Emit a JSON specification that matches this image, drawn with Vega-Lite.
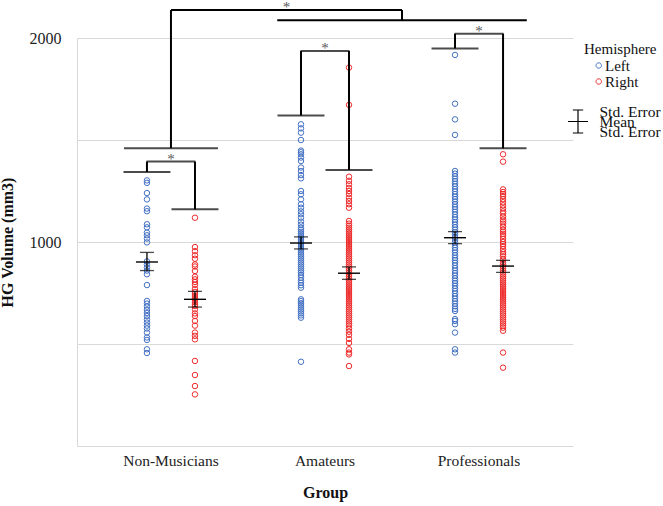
{
 "$schema": "https://vega.github.io/schema/vega-lite/v6.json",
 "width": 496, "height": 408,
 "autosize": {"type": "none"},
 "padding": {"left": 77, "top": 38, "right": 90, "bottom": 60},
 "config": {
  "font": "Liberation Serif",
  "view": {"stroke": null},
  "axisX": {"ticks": false, "labelAngle": 0, "labelFontSize": 15.5, "labelColor": "#222", "domainColor": "#d9d9d9", "titleFontSize": 16, "titleFontWeight": "bold", "titleColor": "#111", "labelPadding": 7, "titlePadding": 16, "grid": false},
  "axisY": {"ticks": false, "grid": true, "gridColor": "#d9d9d9", "domainColor": "#d9d9d9", "labelFontSize": 16, "labelColor": "#222", "labelPadding": 16, "titleFontSize": 16, "titleFontWeight": "bold", "titleColor": "#111", "titlePadding": 14}
 },
 "datasets": {
  "points": [
   {"group":"Non-Musicians","hemisphere":"Left","volume":1302},{"group":"Non-Musicians","hemisphere":"Left","volume":1290},{"group":"Non-Musicians","hemisphere":"Left","volume":1240},{"group":"Non-Musicians","hemisphere":"Left","volume":1209},{"group":"Non-Musicians","hemisphere":"Left","volume":1164},{"group":"Non-Musicians","hemisphere":"Left","volume":1151},{"group":"Non-Musicians","hemisphere":"Left","volume":1087},{"group":"Non-Musicians","hemisphere":"Left","volume":1072},{"group":"Non-Musicians","hemisphere":"Left","volume":1046},{"group":"Non-Musicians","hemisphere":"Left","volume":1033},{"group":"Non-Musicians","hemisphere":"Left","volume":1017},{"group":"Non-Musicians","hemisphere":"Left","volume":998},{"group":"Non-Musicians","hemisphere":"Left","volume":905},{"group":"Non-Musicians","hemisphere":"Left","volume":890},{"group":"Non-Musicians","hemisphere":"Left","volume":875},{"group":"Non-Musicians","hemisphere":"Left","volume":860},{"group":"Non-Musicians","hemisphere":"Left","volume":842},{"group":"Non-Musicians","hemisphere":"Left","volume":789},{"group":"Non-Musicians","hemisphere":"Left","volume":711},{"group":"Non-Musicians","hemisphere":"Left","volume":698},{"group":"Non-Musicians","hemisphere":"Left","volume":683},{"group":"Non-Musicians","hemisphere":"Left","volume":667},{"group":"Non-Musicians","hemisphere":"Left","volume":652},{"group":"Non-Musicians","hemisphere":"Left","volume":637},{"group":"Non-Musicians","hemisphere":"Left","volume":620},{"group":"Non-Musicians","hemisphere":"Left","volume":605},{"group":"Non-Musicians","hemisphere":"Left","volume":590},{"group":"Non-Musicians","hemisphere":"Left","volume":576},{"group":"Non-Musicians","hemisphere":"Left","volume":556},{"group":"Non-Musicians","hemisphere":"Left","volume":532},{"group":"Non-Musicians","hemisphere":"Left","volume":520},{"group":"Non-Musicians","hemisphere":"Left","volume":474},{"group":"Non-Musicians","hemisphere":"Left","volume":456},
   {"group":"Non-Musicians","hemisphere":"Right","volume":1119},{"group":"Non-Musicians","hemisphere":"Right","volume":975},{"group":"Non-Musicians","hemisphere":"Right","volume":955},{"group":"Non-Musicians","hemisphere":"Right","volume":935},{"group":"Non-Musicians","hemisphere":"Right","volume":918},{"group":"Non-Musicians","hemisphere":"Right","volume":890},{"group":"Non-Musicians","hemisphere":"Right","volume":880},{"group":"Non-Musicians","hemisphere":"Right","volume":858},{"group":"Non-Musicians","hemisphere":"Right","volume":830},{"group":"Non-Musicians","hemisphere":"Right","volume":817},{"group":"Non-Musicians","hemisphere":"Right","volume":804},{"group":"Non-Musicians","hemisphere":"Right","volume":790},{"group":"Non-Musicians","hemisphere":"Right","volume":770},{"group":"Non-Musicians","hemisphere":"Right","volume":755},{"group":"Non-Musicians","hemisphere":"Right","volume":745},{"group":"Non-Musicians","hemisphere":"Right","volume":735},{"group":"Non-Musicians","hemisphere":"Right","volume":725},{"group":"Non-Musicians","hemisphere":"Right","volume":716},{"group":"Non-Musicians","hemisphere":"Right","volume":705},{"group":"Non-Musicians","hemisphere":"Right","volume":695},{"group":"Non-Musicians","hemisphere":"Right","volume":686},{"group":"Non-Musicians","hemisphere":"Right","volume":670},{"group":"Non-Musicians","hemisphere":"Right","volume":650},{"group":"Non-Musicians","hemisphere":"Right","volume":637},{"group":"Non-Musicians","hemisphere":"Right","volume":613},{"group":"Non-Musicians","hemisphere":"Right","volume":590},{"group":"Non-Musicians","hemisphere":"Right","volume":556},{"group":"Non-Musicians","hemisphere":"Right","volume":540},{"group":"Non-Musicians","hemisphere":"Right","volume":523},{"group":"Non-Musicians","hemisphere":"Right","volume":417},{"group":"Non-Musicians","hemisphere":"Right","volume":348},{"group":"Non-Musicians","hemisphere":"Right","volume":294},{"group":"Non-Musicians","hemisphere":"Right","volume":253},
   {"group":"Amateurs","hemisphere":"Left","volume":1577},{"group":"Amateurs","hemisphere":"Left","volume":1557},{"group":"Amateurs","hemisphere":"Left","volume":1536},{"group":"Amateurs","hemisphere":"Left","volume":1500},{"group":"Amateurs","hemisphere":"Left","volume":1448},{"group":"Amateurs","hemisphere":"Left","volume":1440},{"group":"Amateurs","hemisphere":"Left","volume":1430},{"group":"Amateurs","hemisphere":"Left","volume":1414},{"group":"Amateurs","hemisphere":"Left","volume":1397},{"group":"Amateurs","hemisphere":"Left","volume":1365},{"group":"Amateurs","hemisphere":"Left","volume":1348},{"group":"Amateurs","hemisphere":"Left","volume":1328},{"group":"Amateurs","hemisphere":"Left","volume":1312},{"group":"Amateurs","hemisphere":"Left","volume":1250},{"group":"Amateurs","hemisphere":"Left","volume":1234},{"group":"Amateurs","hemisphere":"Left","volume":1209},{"group":"Amateurs","hemisphere":"Left","volume":1185},{"group":"Amateurs","hemisphere":"Left","volume":1168},{"group":"Amateurs","hemisphere":"Left","volume":1150},{"group":"Amateurs","hemisphere":"Left","volume":1136},{"group":"Amateurs","hemisphere":"Left","volume":1119},{"group":"Amateurs","hemisphere":"Left","volume":1100},{"group":"Amateurs","hemisphere":"Left","volume":1085},{"group":"Amateurs","hemisphere":"Left","volume":1070},{"group":"Amateurs","hemisphere":"Left","volume":1060},{"group":"Amateurs","hemisphere":"Left","volume":1050},{"group":"Amateurs","hemisphere":"Left","volume":1040},{"group":"Amateurs","hemisphere":"Left","volume":1030},{"group":"Amateurs","hemisphere":"Left","volume":1020},{"group":"Amateurs","hemisphere":"Left","volume":1010},{"group":"Amateurs","hemisphere":"Left","volume":1000},{"group":"Amateurs","hemisphere":"Left","volume":990},{"group":"Amateurs","hemisphere":"Left","volume":980},{"group":"Amateurs","hemisphere":"Left","volume":970},{"group":"Amateurs","hemisphere":"Left","volume":960},{"group":"Amateurs","hemisphere":"Left","volume":950},{"group":"Amateurs","hemisphere":"Left","volume":940},{"group":"Amateurs","hemisphere":"Left","volume":930},{"group":"Amateurs","hemisphere":"Left","volume":920},{"group":"Amateurs","hemisphere":"Left","volume":910},{"group":"Amateurs","hemisphere":"Left","volume":900},{"group":"Amateurs","hemisphere":"Left","volume":890},{"group":"Amateurs","hemisphere":"Left","volume":880},{"group":"Amateurs","hemisphere":"Left","volume":870},{"group":"Amateurs","hemisphere":"Left","volume":860},{"group":"Amateurs","hemisphere":"Left","volume":850},{"group":"Amateurs","hemisphere":"Left","volume":838},{"group":"Amateurs","hemisphere":"Left","volume":825},{"group":"Amateurs","hemisphere":"Left","volume":812},{"group":"Amateurs","hemisphere":"Left","volume":800},{"group":"Amateurs","hemisphere":"Left","volume":788},{"group":"Amateurs","hemisphere":"Left","volume":776},{"group":"Amateurs","hemisphere":"Left","volume":719},{"group":"Amateurs","hemisphere":"Left","volume":710},{"group":"Amateurs","hemisphere":"Left","volume":700},{"group":"Amateurs","hemisphere":"Left","volume":690},{"group":"Amateurs","hemisphere":"Left","volume":680},{"group":"Amateurs","hemisphere":"Left","volume":670},{"group":"Amateurs","hemisphere":"Left","volume":660},{"group":"Amateurs","hemisphere":"Left","volume":650},{"group":"Amateurs","hemisphere":"Left","volume":640},{"group":"Amateurs","hemisphere":"Left","volume":629},{"group":"Amateurs","hemisphere":"Left","volume":413},
   {"group":"Amateurs","hemisphere":"Right","volume":1855},{"group":"Amateurs","hemisphere":"Right","volume":1672},{"group":"Amateurs","hemisphere":"Right","volume":1320},{"group":"Amateurs","hemisphere":"Right","volume":1300},{"group":"Amateurs","hemisphere":"Right","volume":1283},{"group":"Amateurs","hemisphere":"Right","volume":1265},{"group":"Amateurs","hemisphere":"Right","volume":1250},{"group":"Amateurs","hemisphere":"Right","volume":1235},{"group":"Amateurs","hemisphere":"Right","volume":1217},{"group":"Amateurs","hemisphere":"Right","volume":1201},{"group":"Amateurs","hemisphere":"Right","volume":1185},{"group":"Amateurs","hemisphere":"Right","volume":1168},{"group":"Amateurs","hemisphere":"Right","volume":1103},{"group":"Amateurs","hemisphere":"Right","volume":1090},{"group":"Amateurs","hemisphere":"Right","volume":1080},{"group":"Amateurs","hemisphere":"Right","volume":1070},{"group":"Amateurs","hemisphere":"Right","volume":1060},{"group":"Amateurs","hemisphere":"Right","volume":1050},{"group":"Amateurs","hemisphere":"Right","volume":1040},{"group":"Amateurs","hemisphere":"Right","volume":1030},{"group":"Amateurs","hemisphere":"Right","volume":1020},{"group":"Amateurs","hemisphere":"Right","volume":1010},{"group":"Amateurs","hemisphere":"Right","volume":1000},{"group":"Amateurs","hemisphere":"Right","volume":990},{"group":"Amateurs","hemisphere":"Right","volume":980},{"group":"Amateurs","hemisphere":"Right","volume":970},{"group":"Amateurs","hemisphere":"Right","volume":960},{"group":"Amateurs","hemisphere":"Right","volume":950},{"group":"Amateurs","hemisphere":"Right","volume":940},{"group":"Amateurs","hemisphere":"Right","volume":930},{"group":"Amateurs","hemisphere":"Right","volume":920},{"group":"Amateurs","hemisphere":"Right","volume":910},{"group":"Amateurs","hemisphere":"Right","volume":900},{"group":"Amateurs","hemisphere":"Right","volume":890},{"group":"Amateurs","hemisphere":"Right","volume":880},{"group":"Amateurs","hemisphere":"Right","volume":870},{"group":"Amateurs","hemisphere":"Right","volume":860},{"group":"Amateurs","hemisphere":"Right","volume":850},{"group":"Amateurs","hemisphere":"Right","volume":840},{"group":"Amateurs","hemisphere":"Right","volume":830},{"group":"Amateurs","hemisphere":"Right","volume":820},{"group":"Amateurs","hemisphere":"Right","volume":810},{"group":"Amateurs","hemisphere":"Right","volume":800},{"group":"Amateurs","hemisphere":"Right","volume":790},{"group":"Amateurs","hemisphere":"Right","volume":780},{"group":"Amateurs","hemisphere":"Right","volume":770},{"group":"Amateurs","hemisphere":"Right","volume":760},{"group":"Amateurs","hemisphere":"Right","volume":750},{"group":"Amateurs","hemisphere":"Right","volume":740},{"group":"Amateurs","hemisphere":"Right","volume":730},{"group":"Amateurs","hemisphere":"Right","volume":720},{"group":"Amateurs","hemisphere":"Right","volume":710},{"group":"Amateurs","hemisphere":"Right","volume":700},{"group":"Amateurs","hemisphere":"Right","volume":690},{"group":"Amateurs","hemisphere":"Right","volume":680},{"group":"Amateurs","hemisphere":"Right","volume":670},{"group":"Amateurs","hemisphere":"Right","volume":660},{"group":"Amateurs","hemisphere":"Right","volume":650},{"group":"Amateurs","hemisphere":"Right","volume":640},{"group":"Amateurs","hemisphere":"Right","volume":630},{"group":"Amateurs","hemisphere":"Right","volume":620},{"group":"Amateurs","hemisphere":"Right","volume":610},{"group":"Amateurs","hemisphere":"Right","volume":600},{"group":"Amateurs","hemisphere":"Right","volume":590},{"group":"Amateurs","hemisphere":"Right","volume":575},{"group":"Amateurs","hemisphere":"Right","volume":560},{"group":"Amateurs","hemisphere":"Right","volume":545},{"group":"Amateurs","hemisphere":"Right","volume":525},{"group":"Amateurs","hemisphere":"Right","volume":505},{"group":"Amateurs","hemisphere":"Right","volume":474},{"group":"Amateurs","hemisphere":"Right","volume":458},{"group":"Amateurs","hemisphere":"Right","volume":449},{"group":"Amateurs","hemisphere":"Right","volume":392},
   {"group":"Professionals","hemisphere":"Left","volume":1917},{"group":"Professionals","hemisphere":"Left","volume":1678},{"group":"Professionals","hemisphere":"Left","volume":1601},{"group":"Professionals","hemisphere":"Left","volume":1525},{"group":"Professionals","hemisphere":"Left","volume":1348},{"group":"Professionals","hemisphere":"Left","volume":1335},{"group":"Professionals","hemisphere":"Left","volume":1322},{"group":"Professionals","hemisphere":"Left","volume":1310},{"group":"Professionals","hemisphere":"Left","volume":1298},{"group":"Professionals","hemisphere":"Left","volume":1285},{"group":"Professionals","hemisphere":"Left","volume":1272},{"group":"Professionals","hemisphere":"Left","volume":1260},{"group":"Professionals","hemisphere":"Left","volume":1248},{"group":"Professionals","hemisphere":"Left","volume":1235},{"group":"Professionals","hemisphere":"Left","volume":1222},{"group":"Professionals","hemisphere":"Left","volume":1210},{"group":"Professionals","hemisphere":"Left","volume":1198},{"group":"Professionals","hemisphere":"Left","volume":1185},{"group":"Professionals","hemisphere":"Left","volume":1172},{"group":"Professionals","hemisphere":"Left","volume":1160},{"group":"Professionals","hemisphere":"Left","volume":1148},{"group":"Professionals","hemisphere":"Left","volume":1135},{"group":"Professionals","hemisphere":"Left","volume":1122},{"group":"Professionals","hemisphere":"Left","volume":1110},{"group":"Professionals","hemisphere":"Left","volume":1098},{"group":"Professionals","hemisphere":"Left","volume":1085},{"group":"Professionals","hemisphere":"Left","volume":1072},{"group":"Professionals","hemisphere":"Left","volume":1060},{"group":"Professionals","hemisphere":"Left","volume":1048},{"group":"Professionals","hemisphere":"Left","volume":1035},{"group":"Professionals","hemisphere":"Left","volume":1022},{"group":"Professionals","hemisphere":"Left","volume":1010},{"group":"Professionals","hemisphere":"Left","volume":998},{"group":"Professionals","hemisphere":"Left","volume":985},{"group":"Professionals","hemisphere":"Left","volume":972},{"group":"Professionals","hemisphere":"Left","volume":960},{"group":"Professionals","hemisphere":"Left","volume":948},{"group":"Professionals","hemisphere":"Left","volume":935},{"group":"Professionals","hemisphere":"Left","volume":922},{"group":"Professionals","hemisphere":"Left","volume":910},{"group":"Professionals","hemisphere":"Left","volume":898},{"group":"Professionals","hemisphere":"Left","volume":885},{"group":"Professionals","hemisphere":"Left","volume":872},{"group":"Professionals","hemisphere":"Left","volume":860},{"group":"Professionals","hemisphere":"Left","volume":848},{"group":"Professionals","hemisphere":"Left","volume":835},{"group":"Professionals","hemisphere":"Left","volume":822},{"group":"Professionals","hemisphere":"Left","volume":810},{"group":"Professionals","hemisphere":"Left","volume":798},{"group":"Professionals","hemisphere":"Left","volume":785},{"group":"Professionals","hemisphere":"Left","volume":772},{"group":"Professionals","hemisphere":"Left","volume":760},{"group":"Professionals","hemisphere":"Left","volume":748},{"group":"Professionals","hemisphere":"Left","volume":735},{"group":"Professionals","hemisphere":"Left","volume":722},{"group":"Professionals","hemisphere":"Left","volume":710},{"group":"Professionals","hemisphere":"Left","volume":698},{"group":"Professionals","hemisphere":"Left","volume":685},{"group":"Professionals","hemisphere":"Left","volume":672},{"group":"Professionals","hemisphere":"Left","volume":662},{"group":"Professionals","hemisphere":"Left","volume":622},{"group":"Professionals","hemisphere":"Left","volume":613},{"group":"Professionals","hemisphere":"Left","volume":597},{"group":"Professionals","hemisphere":"Left","volume":556},{"group":"Professionals","hemisphere":"Left","volume":474},{"group":"Professionals","hemisphere":"Left","volume":458},
   {"group":"Professionals","hemisphere":"Right","volume":1430},{"group":"Professionals","hemisphere":"Right","volume":1394},{"group":"Professionals","hemisphere":"Right","volume":1258},{"group":"Professionals","hemisphere":"Right","volume":1245},{"group":"Professionals","hemisphere":"Right","volume":1235},{"group":"Professionals","hemisphere":"Right","volume":1225},{"group":"Professionals","hemisphere":"Right","volume":1210},{"group":"Professionals","hemisphere":"Right","volume":1195},{"group":"Professionals","hemisphere":"Right","volume":1180},{"group":"Professionals","hemisphere":"Right","volume":1165},{"group":"Professionals","hemisphere":"Right","volume":1150},{"group":"Professionals","hemisphere":"Right","volume":1140},{"group":"Professionals","hemisphere":"Right","volume":1125},{"group":"Professionals","hemisphere":"Right","volume":1110},{"group":"Professionals","hemisphere":"Right","volume":1100},{"group":"Professionals","hemisphere":"Right","volume":1090},{"group":"Professionals","hemisphere":"Right","volume":1075},{"group":"Professionals","hemisphere":"Right","volume":1060},{"group":"Professionals","hemisphere":"Right","volume":1050},{"group":"Professionals","hemisphere":"Right","volume":1040},{"group":"Professionals","hemisphere":"Right","volume":1030},{"group":"Professionals","hemisphere":"Right","volume":1015},{"group":"Professionals","hemisphere":"Right","volume":1000},{"group":"Professionals","hemisphere":"Right","volume":990},{"group":"Professionals","hemisphere":"Right","volume":980},{"group":"Professionals","hemisphere":"Right","volume":965},{"group":"Professionals","hemisphere":"Right","volume":950},{"group":"Professionals","hemisphere":"Right","volume":940},{"group":"Professionals","hemisphere":"Right","volume":930},{"group":"Professionals","hemisphere":"Right","volume":915},{"group":"Professionals","hemisphere":"Right","volume":900},{"group":"Professionals","hemisphere":"Right","volume":890},{"group":"Professionals","hemisphere":"Right","volume":880},{"group":"Professionals","hemisphere":"Right","volume":870},{"group":"Professionals","hemisphere":"Right","volume":860},{"group":"Professionals","hemisphere":"Right","volume":850},{"group":"Professionals","hemisphere":"Right","volume":840},{"group":"Professionals","hemisphere":"Right","volume":830},{"group":"Professionals","hemisphere":"Right","volume":820},{"group":"Professionals","hemisphere":"Right","volume":810},{"group":"Professionals","hemisphere":"Right","volume":800},{"group":"Professionals","hemisphere":"Right","volume":790},{"group":"Professionals","hemisphere":"Right","volume":780},{"group":"Professionals","hemisphere":"Right","volume":770},{"group":"Professionals","hemisphere":"Right","volume":760},{"group":"Professionals","hemisphere":"Right","volume":750},{"group":"Professionals","hemisphere":"Right","volume":740},{"group":"Professionals","hemisphere":"Right","volume":730},{"group":"Professionals","hemisphere":"Right","volume":720},{"group":"Professionals","hemisphere":"Right","volume":710},{"group":"Professionals","hemisphere":"Right","volume":700},{"group":"Professionals","hemisphere":"Right","volume":690},{"group":"Professionals","hemisphere":"Right","volume":680},{"group":"Professionals","hemisphere":"Right","volume":670},{"group":"Professionals","hemisphere":"Right","volume":660},{"group":"Professionals","hemisphere":"Right","volume":650},{"group":"Professionals","hemisphere":"Right","volume":640},{"group":"Professionals","hemisphere":"Right","volume":630},{"group":"Professionals","hemisphere":"Right","volume":620},{"group":"Professionals","hemisphere":"Right","volume":610},{"group":"Professionals","hemisphere":"Right","volume":600},{"group":"Professionals","hemisphere":"Right","volume":590},{"group":"Professionals","hemisphere":"Right","volume":580},{"group":"Professionals","hemisphere":"Right","volume":565},{"group":"Professionals","hemisphere":"Right","volume":458},{"group":"Professionals","hemisphere":"Right","volume":384}
  ],
  "stats": [
   {"group":"Non-Musicians","hemisphere":"Left","stat":"Mean","mean":902,"lo":860,"hi":949},
   {"group":"Non-Musicians","hemisphere":"Right","stat":"Mean","mean":719,"lo":681,"hi":758},
   {"group":"Amateurs","hemisphere":"Left","stat":"Mean","mean":995,"lo":966,"hi":1025},
   {"group":"Amateurs","hemisphere":"Right","stat":"Mean","mean":847,"lo":817,"hi":878},
   {"group":"Professionals","hemisphere":"Left","stat":"Mean","mean":1021,"lo":992,"hi":1051},
   {"group":"Professionals","hemisphere":"Right","stat":"Mean","mean":882,"lo":851,"hi":910}
  ],
  "caps": [
   {"group":"Non-Musicians","hemisphere":"Left","y":1343,"top":1394},
   {"group":"Non-Musicians","hemisphere":"Right","y":1160,"top":1394},
   {"group":"Amateurs","hemisphere":"Left","y":1620,"top":1936},
   {"group":"Amateurs","hemisphere":"Right","y":1353,"top":1936},
   {"group":"Professionals","hemisphere":"Left","y":1949,"top":2021},
   {"group":"Professionals","hemisphere":"Right","y":1459,"top":2021}
  ],
  "tops": [
   {"group":"Non-Musicians","y":1394,"star":1405},
   {"group":"Amateurs","y":1936,"star":1950},
   {"group":"Professionals","y":2021,"star":2032}
  ],
  "groupcap": [{"group":"Non-Musicians","y":1460,"top":2137}],
  "overall": [{"group":"Amateurs","from":"Non-Musicians","to":"Professionals","y":2137,"star":2153}],
  "musicians": [{"group":"Professionals","from":"Amateurs","to":"Professionals","y":2087,"top":2137}]
 },
 "encoding": {
  "x": {"field": "group", "type": "nominal", "title": "Group",
        "scale": {"domain": ["Non-Musicians", "Amateurs", "Professionals"], "paddingInner": 0, "paddingOuter": 0.11}}
 },
 "layer": [
  {
   "data": {"name": "points"},
   "mark": {"type": "point", "filled": false, "size": 30, "strokeWidth": 1, "opacity": 1},
   "encoding": {
    "xOffset": {"field": "hemisphere", "type": "nominal", "scale": {"domain": ["Left", "Right"], "paddingInner": 0, "paddingOuter": 0.604}},
    "y": {"field": "volume", "type": "quantitative", "title": "HG Volume (mm3)",
          "scale": {"domain": [0, 2000], "nice": false},
          "axis": {"values": [500, 1000, 1500, 2000], "format": "d", "labelExpr": "datum.value % 1000 === 0 ? datum.label : ''"}},
    "color": {"field": "hemisphere", "type": "nominal",
              "scale": {"domain": ["Left", "Right"], "range": ["#4472C4", "#EE2C2C"]},
              "legend": {"title": "Hemisphere", "orient": "none", "legendX": 507, "legendY": 4, "titleFontSize": 15, "titleFontWeight": "normal", "titleColor": "#111", "labelFontSize": 15, "labelColor": "#111",
                         "symbolType": "M1.99,0A0.54,0.54 0 1,1 0.91,0A0.54,0.54 0 1,1 1.99,0Z", "symbolSize": 100, "symbolStrokeWidth": 1, "labelOffset": 6, "rowPadding": -2, "titlePadding": 1}}
   }
  },
  {
   "data": {"name": "stats"},
   "mark": {"type": "rule", "color": "#000", "strokeWidth": 1.3},
   "encoding": {
    "xOffset": {"field": "hemisphere", "type": "nominal"},
    "y": {"field": "lo", "type": "quantitative", "title": "HG Volume (mm3)"},
    "y2": {"field": "hi"}
   }
  },
  {
   "data": {"name": "stats"},
   "mark": {"type": "tick", "color": "#000", "size": 14, "thickness": 1.3},
   "encoding": {
    "xOffset": {"field": "hemisphere", "type": "nominal"},
    "y": {"field": "lo", "type": "quantitative", "title": "HG Volume (mm3)"}
   }
  },
  {
   "data": {"name": "stats"},
   "mark": {"type": "tick", "color": "#000", "size": 14, "thickness": 1.3},
   "encoding": {
    "xOffset": {"field": "hemisphere", "type": "nominal"},
    "y": {"field": "hi", "type": "quantitative", "title": "HG Volume (mm3)"}
   }
  },
  {
   "data": {"name": "stats"},
   "mark": {"type": "point", "filled": false, "color": "#000", "shape": "M-1,0H1", "size": 484, "strokeWidth": 1.4},
   "encoding": {
    "xOffset": {"field": "hemisphere", "type": "nominal"},
    "y": {"field": "mean", "type": "quantitative", "title": "HG Volume (mm3)"},
    "opacity": {"field": "stat", "type": "ordinal",
                "scale": {"domain": ["Mean"], "range": [1]},
                "legend": {"title": ["Std. Error", "Mean", "Std. Error"], "orient": "none", "legendX": 488.5, "legendY": 71,
                           "titleOrient": "right", "titleAnchor": "middle", "titleBaseline": "middle", "titleAlign": "left", "titleLineHeight": 10,
                           "titleFontSize": 15.5, "titleFontWeight": "normal", "titleColor": "#111", "titlePadding": 9,
                           "symbolType": "M-0.87,0L0.87,0M-0.45,-1L0.45,-1M-0.45,1L0.45,1M0,-1L0,1", "symbolSize": 529, "symbolStrokeWidth": 1.2, "symbolStrokeColor": "#000",
                           "labelExpr": "''", "labelOffset": 0}}
   }
  },
  {
   "data": {"name": "caps"},
   "mark": {"type": "tick", "color": "#000", "size": 47, "thickness": 2},
   "encoding": {
    "xOffset": {"field": "hemisphere", "type": "nominal"},
    "y": {"field": "y", "type": "quantitative", "title": "HG Volume (mm3)"}
   }
  },
  {
   "data": {"name": "caps"},
   "mark": {"type": "rule", "color": "#000", "strokeWidth": 2},
   "encoding": {
    "xOffset": {"field": "hemisphere", "type": "nominal"},
    "y": {"field": "y", "type": "quantitative", "title": "HG Volume (mm3)"},
    "y2": {"field": "top"}
   }
  },
  {
   "data": {"name": "tops"},
   "mark": {"type": "tick", "color": "#000", "size": 49, "thickness": 2},
   "encoding": {
    "y": {"field": "y", "type": "quantitative", "title": "HG Volume (mm3)"}
   }
  },
  {
   "data": {"name": "tops"},
   "mark": {"type": "text", "text": "*", "color": "#595959", "fontSize": 15, "baseline": "middle"},
   "encoding": {
    "y": {"field": "star", "type": "quantitative", "title": "HG Volume (mm3)"}
   }
  },
  {
   "data": {"name": "groupcap"},
   "mark": {"type": "tick", "color": "#000", "size": 94, "thickness": 2},
   "encoding": {
    "y": {"field": "y", "type": "quantitative", "title": "HG Volume (mm3)"}
   }
  },
  {
   "data": {"name": "groupcap"},
   "mark": {"type": "rule", "color": "#000", "strokeWidth": 2},
   "encoding": {
    "y": {"field": "y", "type": "quantitative", "title": "HG Volume (mm3)"},
    "y2": {"field": "top"}
   }
  },
  {
   "data": {"name": "overall"},
   "mark": {"type": "rule", "color": "#000", "strokeWidth": 2},
   "encoding": {
    "x": {"field": "from", "type": "nominal", "title": "Group", "bandPosition": 0.5},
    "x2": {"field": "to", "bandPosition": 0},
    "y": {"field": "y", "type": "quantitative", "title": "HG Volume (mm3)"}
   }
  },
  {
   "data": {"name": "overall"},
   "mark": {"type": "text", "text": "*", "color": "#595959", "fontSize": 15, "baseline": "middle"},
   "encoding": {
    "x": {"field": "group", "type": "nominal", "title": "Group", "bandPosition": 0.25},
    "y": {"field": "star", "type": "quantitative", "title": "HG Volume (mm3)"}
   }
  },
  {
   "data": {"name": "musicians"},
   "mark": {"type": "rule", "color": "#000", "strokeWidth": 2},
   "encoding": {
    "x": {"field": "from", "type": "nominal", "title": "Group", "bandPosition": 0.19},
    "x2": {"field": "to", "bandPosition": 0.81},
    "y": {"field": "y", "type": "quantitative", "title": "HG Volume (mm3)"}
   }
  },
  {
   "data": {"name": "musicians"},
   "mark": {"type": "rule", "color": "#000", "strokeWidth": 2},
   "encoding": {
    "x": {"field": "group", "type": "nominal", "title": "Group", "bandPosition": 0},
    "y": {"field": "y", "type": "quantitative", "title": "HG Volume (mm3)"},
    "y2": {"field": "top"}
   }
  }
 ]
}
